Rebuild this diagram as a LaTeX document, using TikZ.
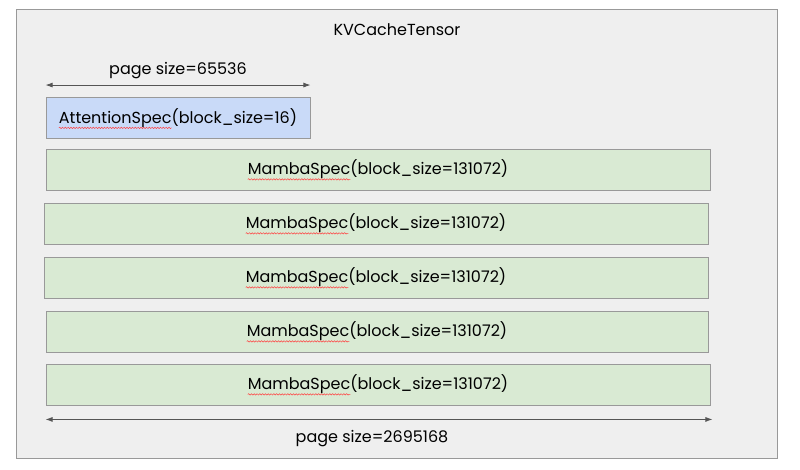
\documentclass[tikz,border=0pt]{standalone}
\usepackage{fontspec}
\setmainfont{Poppins}
\usetikzlibrary{arrows.meta, decorations.pathmorphing}
\definecolor{bggray}{HTML}{EFEFEF}
\definecolor{edgegray}{HTML}{999999}
\definecolor{attnblue}{HTML}{C9DAF8}
\definecolor{mambagreen}{HTML}{D9EAD3}
\definecolor{arrowgray}{HTML}{555555}
\newcommand{\specfont}{\fontsize{16}{18}\selectfont}
\newlength{\attnfullw}
\newlength{\attnwordw}
\newlength{\mambafullw}
\newlength{\mambawordw}
\tikzset{
  specbox/.style={draw=edgegray, line width=0.9pt, minimum height=41pt, inner sep=0pt, font=\specfont},
  attnbox/.style={specbox, fill=attnblue, minimum width=264pt},
  mambabox/.style={specbox, fill=mambagreen, minimum width=664pt},
  sizearrow/.style={draw=arrowgray, line width=0.8pt, {Latex[length=7pt,width=5pt]}-{Latex[length=7pt,width=5pt]}},
  spellwave/.style={draw=red!75!white, line width=0.5pt, decorate, decoration={snake, segment length=2.8pt, amplitude=0.7pt}}
}

\begin{document}
\settowidth{\attnfullw}{\specfont AttentionSpec(block\_size=16)}%
\settowidth{\attnwordw}{\specfont AttentionSpec}%
\settowidth{\mambafullw}{\specfont MambaSpec(block\_size=131072)}%
\settowidth{\mambawordw}{\specfont MambaSpec}%
\begin{tikzpicture}[x=1pt, y=-1pt] % pixel grid, y downwards
  \useasboundingbox (0,0) rectangle (800,470);
  \node[draw=edgegray, fill=bggray, line width=1pt, minimum width=761pt, minimum height=448pt, inner sep=0pt] (tensor) at (396.5,234) {}; % outer box
  \node[font=\specfont] (title) at (397,30) {KVCacheTensor};

  \node[attnbox] (attn) at (178,118) {AttentionSpec(block\_size=16)};
  \node[mambabox] (mamba1) at (378,169.5) {MambaSpec(block\_size=131072)};
  \node[mambabox] (mamba2) at (376,223.5) {MambaSpec(block\_size=131072)};
  \node[mambabox] (mamba3) at (376,277.5) {MambaSpec(block\_size=131072)};
  \node[mambabox, minimum width=662pt] (mamba4) at (377,331.5) {MambaSpec(block\_size=131072)};
  \node[mambabox] (mamba5) at (378,384.5) {MambaSpec(block\_size=131072)};

  % red spell-check waves under the class names
  \draw[spellwave] ([xshift=-0.5\attnfullw, yshift=-4.5pt]attn.base) -- ([xshift=-0.5\attnfullw+\attnwordw, yshift=-4.5pt]attn.base);
  \foreach \m in {mamba1,mamba2,mamba3,mamba4,mamba5}
    \draw[spellwave] ([xshift=-0.5\mambafullw, yshift=-4.5pt]\m.base) -- ([xshift=-0.5\mambafullw+\mambawordw, yshift=-4.5pt]\m.base);

  % page size arrows
  \coordinate (pa) at ([yshift=12pt]attn.north west);
  \coordinate (pb) at ([yshift=12pt]attn.north east);
  \draw[sizearrow] (pa) -- (pb) node[midway, above=2pt, font=\specfont] (pagesmall) {page size=65536};
  \coordinate (qa) at ([yshift=-14pt]mamba5.south west);
  \coordinate (qb) at ([xshift=2pt, yshift=-14pt]mamba5.south east);
  \draw[sizearrow] (qa) -- (qb) node[midway, below=7pt, xshift=-7pt, font=\specfont] (pagebig) {page size=2695168};
\end{tikzpicture}
\end{document}
